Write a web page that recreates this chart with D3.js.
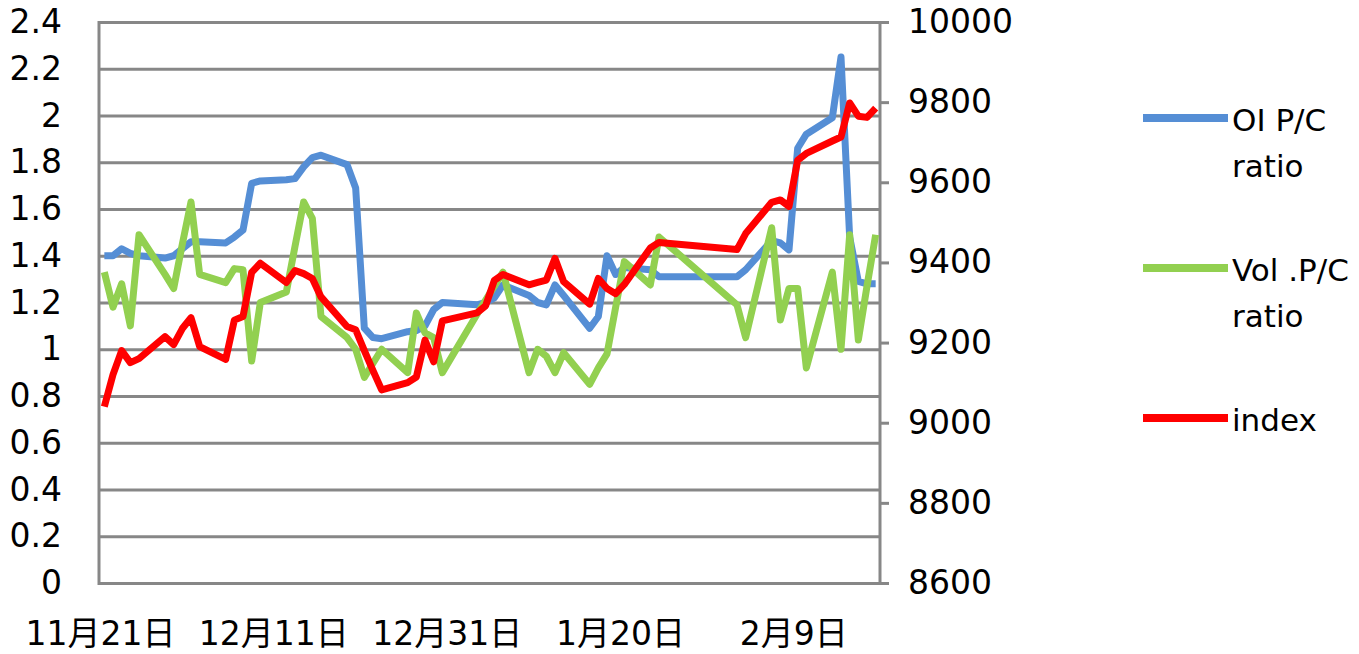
<!DOCTYPE html>
<html>
<head>
<meta charset="utf-8">
<script src="https://cdn.jsdelivr.net/npm/d3@7"></script>
<style>
  html, body { margin: 0; padding: 0; background: #ffffff; }
  svg { display: block; }
  text { font-family: "DejaVu Sans", "Noto Sans CJK TC", sans-serif; fill: #000; }
</style>
</head>
<body>
<svg id="chart" width="1359" height="654"></svg>
<script>
// ---------------- data ----------------
const dates = [
  "2016-11-21","2016-11-22","2016-11-23","2016-11-24","2016-11-25",
  "2016-11-28","2016-11-29","2016-11-30","2016-12-01","2016-12-02",
  "2016-12-05","2016-12-06","2016-12-07","2016-12-08","2016-12-09",
  "2016-12-12","2016-12-13","2016-12-14","2016-12-15","2016-12-16",
  "2016-12-19","2016-12-20","2016-12-21","2016-12-22","2016-12-23",
  "2016-12-26","2016-12-27","2016-12-28","2016-12-29","2016-12-30",
  "2017-01-03","2017-01-04","2017-01-05","2017-01-06",
  "2017-01-09","2017-01-10","2017-01-11","2017-01-12","2017-01-13",
  "2017-01-16","2017-01-17","2017-01-18","2017-01-19","2017-01-20",
  "2017-01-23","2017-01-24",
  "2017-02-02","2017-02-03",
  "2017-02-06","2017-02-07","2017-02-08","2017-02-09","2017-02-10",
  "2017-02-13","2017-02-14","2017-02-15","2017-02-16","2017-02-17","2017-02-18"
];

const oiPC = [
  1.40, 1.40, 1.43, 1.41, 1.40,
  1.39, 1.40, 1.43, 1.46, 1.46,
  1.455, 1.48, 1.51, 1.71, 1.72,
  1.725, 1.73, 1.78, 1.82, 1.83,
  1.79, 1.69, 1.09, 1.05, 1.045,
  1.075, 1.08, 1.10, 1.17, 1.20,
  1.19, 1.20, 1.22, 1.275,
  1.23, 1.20, 1.19, 1.275, 1.23,
  1.09, 1.14, 1.40, 1.32, 1.35,
  1.34, 1.31,
  1.31, 1.34,
  1.465, 1.455, 1.425, 1.86, 1.92,
  1.99, 2.25, 1.48, 1.29, 1.28, 1.28
];

const volPC = [
  1.33, 1.18, 1.28, 1.10, 1.49,
  1.32, 1.26, 1.45, 1.63, 1.32,
  1.285, 1.345, 1.34, 0.95, 1.20,
  1.245, 1.44, 1.63, 1.56, 1.14,
  1.05, 1.00, 0.88, 0.94, 1.00,
  0.90, 1.155, 1.07, 1.05, 0.90,
  1.15, 1.21, 1.27, 1.33,
  0.90, 1.00, 0.97, 0.90, 0.985,
  0.85, 0.92, 0.98, 1.18, 1.375,
  1.275, 1.48,
  1.19, 1.05,
  1.52, 1.125, 1.26, 1.26, 0.92,
  1.33, 1.00, 1.49, 1.04, 1.27, 1.49
];

const indexVals = [
  9040, 9120, 9180, 9150, 9160,
  9215, 9195, 9235, 9262, 9190,
  9158, 9256, 9265, 9375, 9398,
  9350, 9380, 9372, 9360, 9314,
  9240, 9232, 9180, 9130, 9082,
  9100, 9114, 9206, 9152, 9254,
  9274, 9292, 9355, 9370,
  9344, 9350, 9356, 9410, 9352,
  9296, 9360, 9335, 9322, 9345,
  9436, 9450,
  9432, 9472,
  9550, 9556, 9540, 9655, 9672,
  9703, 9713, 9798, 9765, 9762, 9785
];

const leftTicks = [0, 0.2, 0.4, 0.6, 0.8, 1.0, 1.2, 1.4, 1.6, 1.8, 2.0, 2.2, 2.4];
const leftTickLabels = ["0","0.2","0.4","0.6","0.8","1","1.2","1.4","1.6","1.8","2","2.2","2.4"];
const rightTicks = [8600, 8800, 9000, 9200, 9400, 9600, 9800, 10000];
const xTickDates = ["2016-11-21","2016-12-11","2016-12-31","2017-01-20","2017-02-09"];
const xTickLabels = ["11月21日","12月11日","12月31日","1月20日","2月9日"];
const axisStart = "2016-11-21", axisEnd = "2017-02-19";

const seriesNames = [["OI P/C", "ratio"], ["Vol .P/C", "ratio"], ["index"]];
const seriesColors = ["#558ed5", "#92d050", "#ff0000"];

// ---------------- chart ----------------
const parse = d3.timeParse("%Y-%m-%d");
const svg = d3.select("#chart");
const plot = {left: 99, right: 880, top: 22, bottom: 583};
const gridColor = "#878787";

const x = d3.scaleTime().domain([parse(axisStart), parse(axisEnd)]).range([100, plot.right]);
const xPos = s => x(d3.timeHour.offset(parse(s), 12));
const yL = d3.scaleLinear().domain([0, 2.4]).range([plot.bottom, plot.top]);
const yR = d3.scaleLinear().domain([8600, 10000]).range([plot.bottom, plot.top]);

svg.append("rect").attr("width", 1359).attr("height", 654).attr("fill", "#fff");

// left axis with gridlines
const gL = svg.append("g").attr("transform", `translate(${plot.left},0)`)
  .call(d3.axisLeft(yL).tickValues(leftTicks)
    .tickSize(-(plot.right - plot.left))
    .tickPadding(37)
    .tickFormat((d, i) => leftTickLabels[i]));
gL.select(".domain").remove();
gL.selectAll(".tick line").attr("stroke", gridColor).attr("stroke-width", 3);
gL.selectAll(".tick text").attr("font-size", 33).attr("font-family", "DejaVu Sans");

// right axis
const gR = svg.append("g").attr("transform", `translate(${plot.right},0)`)
  .call(d3.axisRight(yR).tickValues(rightTicks).tickSize(9).tickPadding(19)
    .tickFormat(d3.format("d")));
gR.select(".domain").remove();
gR.selectAll(".tick line").attr("stroke", gridColor).attr("stroke-width", 3);
gR.selectAll(".tick text").attr("font-size", 33).attr("font-family", "DejaVu Sans");

// bottom axis labels
const gB = svg.append("g").attr("transform", `translate(0,${plot.bottom})`)
  .call(d3.axisBottom(x).tickValues(xTickDates.map(parse)).tickSize(0).tickPadding(39)
    .tickFormat((d, i) => xTickLabels[i]));
gB.select(".domain").remove();
gB.selectAll(".tick text").attr("font-size", 33)
  .attr("font-family", "'DejaVu Sans', 'Noto Sans CJK TC'");

// axis lines
svg.append("line").attr("x1", plot.left).attr("x2", plot.left)
  .attr("y1", plot.top - 1).attr("y2", plot.bottom + 2)
  .attr("stroke", gridColor).attr("stroke-width", 3);
svg.append("line").attr("x1", plot.right).attr("x2", plot.right)
  .attr("y1", plot.top - 1).attr("y2", plot.bottom + 2)
  .attr("stroke", gridColor).attr("stroke-width", 3);

// series lines
const lineL = d3.line().x((d, i) => xPos(dates[i])).y(d => yL(d));
const lineR = d3.line().x((d, i) => xPos(dates[i])).y(d => yR(d));
const series = [
  {vals: oiPC, gen: lineL},
  {vals: volPC, gen: lineL},
  {vals: indexVals, gen: lineR}
];
series.forEach((s, k) => {
  svg.append("path").datum(s.vals)
    .attr("d", s.gen)
    .attr("fill", "none")
    .attr("stroke", seriesColors[k])
    .attr("stroke-width", 7)
    .attr("stroke-linejoin", "round")
    .attr("stroke-linecap", "butt");
});

// legend
const legY = [118, 268, 418];
const legend = svg.append("g");
seriesNames.forEach((name, k) => {
  legend.append("line")
    .attr("x1", 1143).attr("x2", 1228)
    .attr("y1", legY[k]).attr("y2", legY[k])
    .attr("stroke", seriesColors[k]).attr("stroke-width", 8);
  const t = legend.append("text")
    .attr("x", 1232).attr("y", legY[k] + 13)
    .attr("font-size", 31).attr("font-family", "DejaVu Sans");
  name.forEach((part, j) => {
    t.append("tspan").attr("x", 1232).attr("dy", j === 0 ? 0 : 46).text(part);
  });
});
</script>
</body>
</html>
